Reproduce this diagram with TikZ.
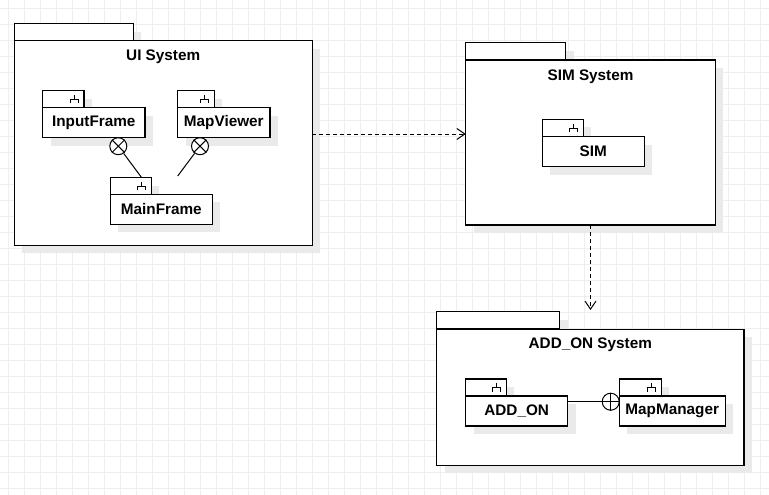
\documentclass[tikz,border=0pt]{standalone}
\usepackage{fontspec}
\setmainfont{Liberation Sans}
\usetikzlibrary{arrows.meta,shadows,calc}
\definecolor{gridc}{RGB}{238,238,238}
\definecolor{shadc}{RGB}{234,234,234}
\tikzset{
  shad/.style={general shadow={fill=shadc, shadow xshift=8pt, shadow yshift=-8pt}},
  tabbox/.style={draw, fill=white, line width=1.1pt, inner sep=0pt, outer sep=0pt, shad},
  bodybox/.style={draw, fill=white, line width=1.1pt, inner sep=0pt, outer sep=0pt, shad,
     font=\fontsize{15.3}{18}\selectfont\bfseries},
  ttl/.style={font=\fontsize{15.3}{18}\selectfont\bfseries, inner sep=0pt},
  dep/.style={line width=1pt, dash pattern=on 4pt off 3pt, -{Straight Barb[length=8pt,width=11pt,line width=1pt]}},
  conn/.style={line width=1pt},
  port/.style={circle, draw, fill=white, line width=1pt, minimum size=17pt, inner sep=0pt},
  fork/.pic={\draw[line width=0.9pt] (0,-4.5)--(0,0) (-4,4)--(-4,0)--(4,0)--(4,4);}
}
\begin{document}
\begin{tikzpicture}[x=1pt,y=-1pt]
\useasboundingbox (0,0) rectangle (769,495);
\fill[white] (0,0) rectangle (769,495);
\foreach \x in {8.5,24.5,...,769} \draw[gridc, line width=1pt] (\x,0)--(\x,495);
\foreach \y in {8.5,24.5,...,495} \draw[gridc, line width=1pt] (0,\y)--(769,\y);

% UI System
\node[tabbox, minimum width=119.3, minimum height=16.7] (uit) at (73.7,32.3) {};
\node[bodybox, minimum width=298.3, minimum height=204.3] (ui) at (163.2,142.9) {};
\node[ttl] (uitl) at (163.2,57) {UI System};

\node[tabbox, minimum width=41.3, minimum height=17] (ift) at (63.3,99.2) {};
\node[bodybox, minimum width=102.3, minimum height=30] (if) at (93.8,122.7) {InputFrame};
\pic at ($(ift.east)+(-10,0)$) {fork};

\node[tabbox, minimum width=36.6, minimum height=17] (mvt) at (196,99.2) {};
\node[bodybox, minimum width=92.3, minimum height=30] (mv) at (223.8,122.7) {MapViewer};
\pic at ($(mvt.east)+(-10,0)$) {fork};

\node[tabbox, minimum width=40.7, minimum height=16.6] (mft) at (130.7,186) {};
\node[bodybox, minimum width=102, minimum height=29.7] (mf) at (161.3,209.2) {MainFrame};
\pic at ($(mft.east)+(-10,0)$) {fork};

\node[port] (p1) at (118.3,146.2) {};
\draw[conn] (p1.north west)--(p1.south east) (p1.north east)--(p1.south west);
\node[port] (p2) at (200,146.2) {};
\draw[conn] (p2.north west)--(p2.south east) (p2.north east)--(p2.south west);
\coordinate (e1) at (141.7,177.7);
\coordinate (e2) at (177.7,176);
\draw[conn] (p1) -- (e1);
\draw[conn] (p2) -- (e2);

% SIM System
\node[tabbox, minimum width=100, minimum height=17.3] (simst) at (515.7,51.3) {};
\node[bodybox, minimum width=249.6, minimum height=165] (sims) at (590.5,142.5) {};
\node[ttl] (simstl) at (590.5,76.7) {SIM System};

\node[tabbox, minimum width=41.3, minimum height=17.4] (simt) at (562.7,128) {};
\node[bodybox, minimum width=102.3, minimum height=30] (sim) at (593.2,151.7) {SIM};
\pic at ($(simt.east)+(-10,0)$) {fork};

% ADD_ON System
\node[tabbox, minimum width=123, minimum height=17.3] (aost) at (498.2,320.3) {};
\node[bodybox, minimum width=307.3, minimum height=136.3] (aos) at (590.3,397.2) {};
\node[ttl] (aostl) at (590.3,344.3) {ADD\_ON System};

\node[tabbox, minimum width=40.6, minimum height=17] (aot) at (486,387.5) {};
\node[bodybox, minimum width=102, minimum height=30] (ao) at (516.7,411) {ADD\_ON};
\pic at ($(aot.east)+(-10,0)$) {fork};

\node[tabbox, minimum width=42.3, minimum height=17] (mmt) at (640.2,387.5) {};
\node[bodybox, minimum width=106.3, minimum height=30] (mm) at (672.2,411) {MapManager};
\pic at ($(mmt.east)+(-10,0)$) {fork};

\node[port] (p3) at (610.7,401.7) {};
\draw[conn] (p3.north)--(p3.south) (p3.west)--(p3.east);
\draw[conn] (p3) -- (p3 -| ao.east);

% dependencies
\coordinate (a1) at (312.3,134);
\draw[dep] (ui.east |- a1) -- (sims.west |- a1);
\coordinate (d2) at (590.5,310);
\draw[dep] (sims.south) -- (d2);
\end{tikzpicture}
\end{document}
